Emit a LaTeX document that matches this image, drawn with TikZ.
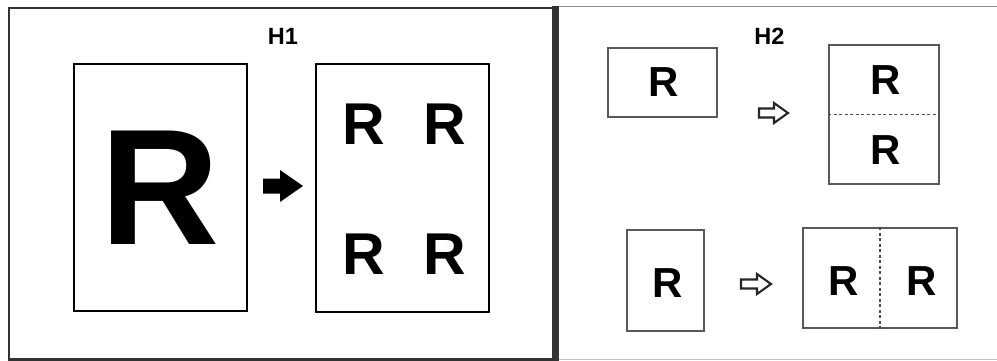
\documentclass[tikz,border=0pt]{standalone}
\usepackage{fontspec}
\setmainfont{Liberation Sans}
\begin{document}
\begin{tikzpicture}[x=1pt,y=-1pt,
  letter/.style={inner sep=0pt,font=\bfseries},
  pagebox/.style={draw=black,line width=2pt,inner sep=0pt},
  graybox/.style={draw=black!65,line width=1.6pt,inner sep=0pt},
  dividerline/.style={draw=black!70,line width=1.6pt,dash pattern=on 3pt off 2.5pt},
  hollowarrow/.style={draw=black!85,line width=2.1pt,fill=white,line join=miter}]
\useasboundingbox (0,0) rectangle (997,361);
% frames
\draw[black!80,line width=2.2pt] (555,8) -- (9,8) -- (9,359.5) -- (555,359.5);
\draw[black!45,line width=1.2pt] (559,6.5) -- (997,6.5);
\draw[black!25,line width=1pt] (559,359.5) -- (997,359.5);
\draw[black!80,line width=7pt] (555.5,6) -- (555.5,361);
% H1 panel
\node[letter,font=\fontsize{23.5}{24}\selectfont\bfseries] (h1) at (283,36.5) {H1};
\node[pagebox,minimum width=173,minimum height=247] (src) at (160.5,187.5) {};
\node[letter,font=\fontsize{165}{165}\selectfont\bfseries] (bigR) at (src.center) {R};
\node[pagebox,minimum width=173,minimum height=248] (dst) at (402.5,188) {};
\node[letter,font=\fontsize{59}{59}\selectfont\bfseries] (r1) at (363.5,124.5) {R};
\node[letter,font=\fontsize{59}{59}\selectfont\bfseries] (r2) at (444.5,124.5) {R};
\node[letter,font=\fontsize{59}{59}\selectfont\bfseries] (r3) at (363.5,254) {R};
\node[letter,font=\fontsize{59}{59}\selectfont\bfseries] (r4) at (444.5,254) {R};
\fill[black] (263,178.5) -- (280,178.5) -- (280,170) -- (303,186) -- (280,202) -- (280,193.5) -- (263,193.5) -- cycle;
% H2 panel
\node[letter,font=\fontsize{23.5}{24}\selectfont\bfseries] (h2) at (769.5,36.5) {H2};
\node[graybox,minimum width=109,minimum height=69] (a) at (662.5,82.5) {};
\node[letter,font=\fontsize{42}{42}\selectfont\bfseries] (ra) at (664,82) {R};
\node[graybox,minimum width=110,minimum height=139] (b) at (884,114.5) {};
\draw[dividerline] (b.west) -- (b.east);
\node[letter,font=\fontsize{42}{42}\selectfont\bfseries] (rb1) at (885.5,80) {R};
\node[letter,font=\fontsize{42}{42}\selectfont\bfseries] (rb2) at (885.5,150) {R};
\node[graybox,minimum width=77,minimum height=101] (c) at (665.5,280.5) {};
\node[letter,font=\fontsize{42}{42}\selectfont\bfseries] (rc) at (667.5,283) {R};
\node[graybox,minimum width=154,minimum height=100] (d) at (880,278) {};
\draw[dividerline] (d.north) -- (d.south);
\node[letter,font=\fontsize{42}{42}\selectfont\bfseries] (rd1) at (843.5,281.5) {R};
\node[letter,font=\fontsize{42}{42}\selectfont\bfseries] (rd2) at (921.5,281.5) {R};
\draw[hollowarrow] (759,108.5) -- (774,108.5) -- (774,103) -- (788,113) -- (774,123) -- (774,117.5) -- (759,117.5) -- cycle;
\draw[hollowarrow] (741,279.5) -- (757,279.5) -- (757,274) -- (771,284) -- (757,294) -- (757,288.5) -- (741,288.5) -- cycle;
\end{tikzpicture}
\end{document}
